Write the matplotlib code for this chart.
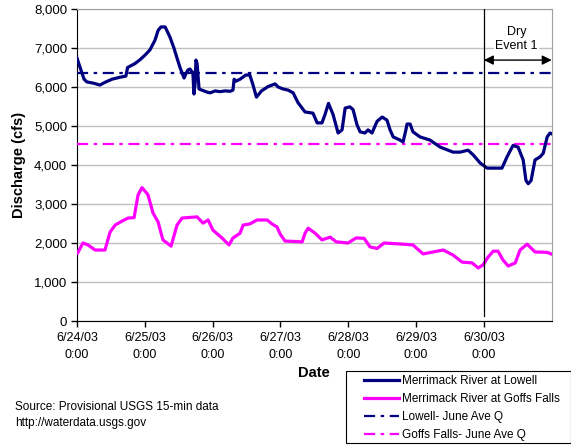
import matplotlib
matplotlib.use("Agg")
import matplotlib.pyplot as plt
from matplotlib.patches import Rectangle

plt.rcParams['font.family'] = ['Liberation Sans', 'DejaVu Sans']
plt.rcParams['lines.scale_dashes'] = False

# hours since 6/24/03 0:00
lowell_t = [0.0, 1.1, 2.5, 3.5, 5.7, 8.1, 9.9, 12.4, 15.2, 17.3, 17.9, 20.5, 22.3, 24.1, 25.8,
            27.6, 28.7, 29.7, 31.2, 32.9, 34.3, 35.4, 36.5, 37.2, 37.9, 38.6, 39.3, 40.0, 40.7,
            41.0, 41.4, 41.8, 42.1, 42.5, 43.2, 44.2, 46.0, 47.1, 48.9, 50.6, 52.4, 54.2, 55.2,
            55.6, 56.3, 57.7, 59.8, 61.2, 62.3, 63.5, 65.3, 67.6, 70.1, 71.2, 72.9, 74.7, 76.5,
            78.2, 80.7, 83.5, 85.0, 86.7, 87.8, 89.0, 90.6, 92.4, 93.8, 94.9, 96.6, 97.7, 99.1,
            100.2, 101.9, 103.0, 104.4, 106.2, 108.0, 109.7, 110.8, 111.9, 114.3, 115.4, 116.4,
            116.8, 117.9, 118.9, 121.4, 124.9, 128.5, 133.1, 135.6, 138.4, 140.2, 142.7, 145.1,
            150.4, 152.2, 154.3, 156.1, 157.9, 158.9, 159.7, 160.7, 162.1, 163.9, 165.0, 166.4,
            167.4, 168.0]
lowell_q = [6740, 6500, 6200, 6130, 6100, 6050, 6120, 6200, 6250, 6280, 6500, 6600, 6700, 6820, 6950,
            7200, 7450, 7540, 7540, 7280, 7000, 6740, 6490, 6360, 6230, 6350, 6440, 6460, 6380,
            6380, 5820, 6100, 6690, 6600, 5950, 5920, 5870, 5850, 5900, 5880, 5900, 5890, 5920,
            6200, 6150, 6200, 6310, 6300, 6050, 5740, 5900, 6010, 6080, 6000, 5950, 5920, 5850,
            5600, 5360, 5330, 5080, 5080, 5300, 5580, 5300, 4820, 4900, 5460, 5490, 5420, 5030,
            4850, 4820, 4900, 4820, 5120, 5230, 5150, 4900, 4720, 4640, 4590, 4900,
            5050, 5050, 4850, 4720, 4640, 4460, 4330, 4330, 4380, 4260, 4050, 3920,
            3920, 4210, 4500, 4460, 4130, 3600, 3520, 3600, 4130, 4210, 4300, 4720,
            4820, 4800]

goffs_t = [0.2, 2.1, 3.9, 6.4, 9.9, 11.7, 13.5, 15.9, 18.1, 20.2, 21.6, 23.0, 25.1, 26.9, 28.7,
           30.4, 33.3, 35.4, 37.2, 42.5, 44.6, 46.4, 48.1, 51.3, 53.8, 55.2, 57.7, 58.8, 61.2,
           63.7, 67.3, 69.0, 70.8, 71.9, 73.6, 79.7, 80.7, 81.8, 84.3, 86.7, 89.6, 91.7, 95.9,
           98.8, 101.6, 103.7, 106.2, 108.7, 115.4, 118.9, 122.5, 126.0, 129.6, 133.1, 136.3,
           139.8, 142.0, 143.7, 145.5, 147.3, 149.0, 150.8, 152.6, 155.1, 156.8, 159.3, 162.1,
           166.4, 167.8]
goffs_q = [1740, 2000, 1950, 1820, 1820, 2280, 2460, 2560, 2640, 2650, 3230, 3420, 3240, 2770, 2540,
           2080, 1920, 2460, 2640, 2670, 2510, 2590, 2330, 2130, 1950, 2130, 2250, 2460, 2490,
           2590, 2590, 2490, 2410, 2230, 2050, 2030, 2250, 2380, 2250, 2080, 2150, 2030, 2000,
           2130, 2120, 1900, 1860, 2000, 1970, 1950, 1720, 1770, 1820, 1690, 1510,
           1490, 1360, 1440, 1640, 1790, 1790, 1560, 1410, 1490, 1820, 1970, 1770,
           1760, 1720]

lowell_mean = 6370
goffs_mean = 4540
dry_start = 144
dry_end = 168

xticks = [0, 24, 48, 72, 96, 120, 144]
xtick_labels = ["6/24/03\n0:00", "6/25/03\n0:00", "6/26/03\n0:00", "6/27/03\n0:00",
                "6/28/03\n0:00", "6/29/03\n0:00", "6/30/03\n0:00"]
yticks = [0, 1000, 2000, 3000, 4000, 5000, 6000, 7000, 8000]

navy = '#000080'
magenta = '#FF00FF'

W, H = 571, 446
fig = plt.figure(figsize=(W/100, H/100), dpi=100)
ax = fig.add_axes([77/W, 1-321/H, (551.7-77)/W, (321-9)/H])

ax.set_xlim(0, 168)
ax.set_ylim(0, 8000)
ax.set_yticks(yticks)
ax.set_yticklabels([f"{v:,}" for v in yticks], fontsize=9.5)
ax.set_xticks(xticks)
ax.set_xticklabels(xtick_labels, fontsize=9, linespacing=1.5)
ax.yaxis.grid(True, color='#C0C0C0', lw=1)
ax.set_axisbelow(True)
ax.tick_params(axis='both', direction='out', length=4, width=1, colors='black')
ax.tick_params(axis='y', pad=3)
ax.tick_params(axis='x', pad=4)
for s in ['top', 'right']:
    ax.spines[s].set_color('#A0A0A0')
for s in ['left', 'bottom']:
    ax.spines[s].set_color('black')

l1, = ax.plot(lowell_t, lowell_q, color=navy, lw=2.3, label='Merrimack River at Lowell', zorder=4)
l2, = ax.plot(goffs_t, goffs_q, color=magenta, lw=2.3, label='Merrimack River at Goffs Falls', zorder=4)
l3 = ax.axhline(lowell_mean, color=navy, lw=1.6, dashes=(8, 4, 2.5, 4), label='Lowell- June Ave Q', zorder=3)
l4 = ax.axhline(goffs_mean, color=magenta, lw=1.6, dashes=(8, 4, 2.5, 4), label='Goffs Falls- June Ave Q', zorder=3)

ax.axvline(dry_start, ymin=0.017, ymax=1, color='black', lw=0.9, zorder=5)
ax.annotate('', xy=(dry_end, 6690), xytext=(dry_start, 6690),
            arrowprops=dict(arrowstyle='<|-|>', color='black', lw=1, mutation_scale=14,
                            shrinkA=0, shrinkB=0), zorder=6, annotation_clip=False)
ax.text((dry_start + dry_end) / 2 - 0.5, 7230, "Dry\nEvent 1", ha='center', va='center', fontsize=9,
        linespacing=1.3, bbox=dict(facecolor='white', edgecolor='none', pad=1), zorder=5)

ax.set_ylabel("Discharge (cfs)", fontsize=10.5, fontweight='bold', labelpad=6)
ax.set_xlabel("Date", fontsize=10.5, fontweight='bold', labelpad=4)

# legend frame drawn separately to match the reference box
fig.patches.append(Rectangle((345.7/W, 1-443/H), (570.7-345.7)/W, (443-370.7)/H,
                             transform=fig.transFigure, facecolor='white', edgecolor='black',
                             lw=0.8, zorder=1))
leg = fig.legend(handles=[l1, l2, l3, l4], loc='upper left',
                 bbox_to_anchor=(364/W, 1-375/H), fontsize=8.5, frameon=False,
                 handlelength=3.0, handletextpad=0.25, labelspacing=0.52,
                 borderpad=0, borderaxespad=0)
leg.set_zorder(2)

fig.text(15/W, 1-406.7/H, "Source: Provisional USGS 15-min data", fontsize=8.5, va='center')
fig.text(15/W, 1-423/H, "http://waterdata.usgs.gov", fontsize=8.5, va='center')

fig.savefig("out.png", dpi=100)
